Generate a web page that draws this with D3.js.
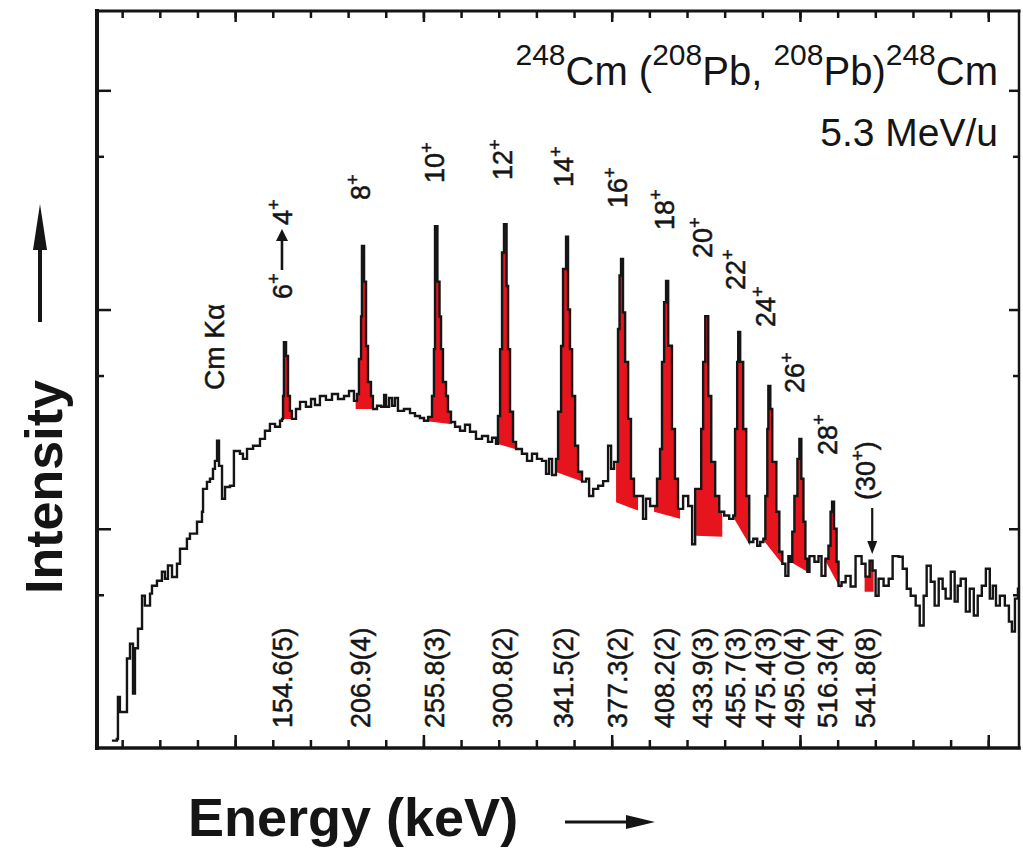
<!DOCTYPE html>
<html>
<head>
<meta charset="utf-8">
<script src="https://cdn.jsdelivr.net/npm/d3@7"></script>
<style>
  html, body { margin: 0; padding: 0; background: #fff; }
  svg { display: block; }
  text { font-family: "Liberation Sans", Arial, sans-serif; fill: #151515; }
  .lbl text { stroke: #151515; stroke-width: 0.5px; }
</style>
</head>
<body>
<svg id="chart" width="1023" height="849"></svg>
<script>
// Gamma-ray spectrum as step levels: [start energy (keV), counts]; each level
// holds until the start of the next one.
const spectrumSteps = [
  [39.7,108],[43.0,110],[43.7,171],[45.0,146],[49.7,256],[51.7,299],[53.7,177],[55.0,285],
  [57.0,350],[59.7,495],[61.6,446],[65.0,506],[66.3,550],[69.6,579],[72.9,637],[74.9,592],
  [76.9,680],[79.6,603],[82.9,693],[84.9,811],[89.5,900],[91.5,950],[96.2,1076],[99.5,1195],
  [100.2,1521],[102.8,1637],[104.8,1690],[106.8,1876],[108.1,2040],[109.5,2520],[110.8,1936],
  [112.8,1370],[114.8,1550],[118.1,1570],[120.7,2265],[124.7,2200],[126.7,2084],[129.4,2314],
  [133.4,2390],[138.0,2570],[141.3,2800],[144.6,3010],[148.0,2920],[151.3,3110],[152.6,3170],
  [153.3,4030],[153.9,7100],[155.3,6140],[156.6,4030],[157.9,3450],[159.2,3170],[161.9,3520],
  [164.6,3790],[168.5,3600],[171.9,3910],[174.5,3670],[177.8,4030],[181.8,3870],[185.8,4120],
  [189.8,3910],[193.8,4030],[197.1,4250],[200.4,3830],[202.4,4120],[203.7,5950],[205.1,9300],
  [205.7,19500],[207.1,13400],[208.4,6820],[209.7,4670],[211.7,4030],[213.0,3520],[215.7,3640],
  [218.4,3600],[220.4,4080],[221.7,3600],[223.7,3950],[225.7,3640],[227.6,3950],[229.6,3450],
  [233.6,3520],[237.6,3370],[240.9,3270],[244.2,3200],[246.9,3110],[249.6,3240],[252.2,4030],
  [253.5,6600],[254.2,24000],[255.8,13400],[257.2,9300],[258.2,6600],[259.5,4670],[261.5,4030],
  [262.8,3420],[264.8,3070],[267.5,2920],[270.8,2800],[274.1,2980],[277.4,2770],[281.4,2570],
  [285.4,2650],[289.4,2490],[292.1,2600],[294.7,2440],[296.0,3270],[297.4,6600],[298.7,18200],
  [300.0,24500],[301.7,12800],[302.7,6600],[304.0,3420],[306.0,2490],[308.0,2310],[311.9,2200],
  [315.3,2040],[318.6,2200],[321.9,2084],[325.2,2040],[327.9,1780],[329.9,2084],[331.9,1760],
  [334.5,2084],[335.9,3420],[337.9,6820],[339.2,15300],[341.2,21500],[342.5,10000],[343.8,6600],
  [345.2,4030],[347.2,2390],[349.2,1820],[351.8,1640],[354.5,1690],[356.5,1410],[359.2,1521],
  [362.5,1570],[365.8,1650],[369.1,2390],[371.1,1876],[373.1,2020],[375.7,8150],[376.7,14300],
  [377.7,17000],[379.0,9700],[380.4,5770],[382.4,3170],[384.3,1690],[386.3,1410],[392.3,1110],
  [394.3,1370],[397.0,1270],[401.6,1690],[403.6,2310],[404.9,5770],[406.3,10800],[407.6,13500],
  [409.0,6840],[411.5,2850],[413.5,1690],[415.5,1233],[418.9,1410],[422.3,1270],[424.9,850],
  [426.9,1521],[430.9,2850],[432.2,5770],[433.6,9330],[435.6,4030],[437.6,2020],[440.2,1410],
  [442.9,1195],[446.2,1150],[449.5,1110],[452.2,1150],[453.4,2850],[454.8,5770],[455.5,7900],
  [456.8,5770],[458.8,2850],[460.8,1410],[462.8,870],[465.5,900],[468.1,837],[470.1,870],
  [472.2,900],[473.5,1410],[474.8,2850],[475.5,4480],[476.8,3520],[478.1,2020],[480.8,1195],
  [482.8,785],[484.8,693],[486.8,610],[488.8,750],[490.1,707],[491.4,970],[492.8,1410],
  [494.8,2084],[496.1,2570],[497.4,1690],[498.8,1076],[500.1,730],[501.4,637],[502.8,750],
  [506.1,707],[508.8,750],[510.8,610],[513.4,730],[515.4,837],[516.8,1195],[517.8,1330],
  [519.1,1000],[520.8,707],[522.1,550],[524.1,570],[526.8,610],[530.1,545],[533.4,750],
  [537.4,693],[540.0,605],[542.7,715],[544.7,645],[546.7,495],[548.7,592],[552.0,550],
  [555.4,592],[558.0,750],[562.0,745],[564.7,657],[567.4,533],[570.0,495],[573.3,446],
  [576.0,362],[578.6,495],[580.6,678],[583.3,573],[585.9,446],[588.6,592],[591.2,533],
  [593.2,480],[596.6,637],[599.2,465],[601.2,550],[603.2,592],[606.6,419],[609.2,533],
  [611.9,402],[614.5,495],[617.2,550],[619.9,657],[622.5,480],[624.5,550],[626.6,446],
  [629.2,495],[632.5,446],[635.2,377],[637.2,340],[639.2,480],[641.2,533]
];
const spectrumEndKeV = 641.9;

// Ground-band transitions I -> I-2
const spins          = [6, 8, 10, 12, 14, 16, 18, 20, 22, 24, 26, 28, 30];
const transitionKeV  = [154.6, 206.9, 255.8, 300.8, 341.5, 377.3, 408.2, 433.9, 455.7, 475.4, 495.0, 516.3, 541.8];
const transitionErr  = ["5", "4", "3", "2", "2", "2", "2", "3", "3", "3", "4", "4", "8"];
// Peak integration windows and the background under each peak
const windowLoKeV    = [152.6, 201.5, 246.5, 295.4, 334.0, 374.4, 399.6, 427.5, 452.8, 471.5, 490.1, 512.7, 539.4];
const windowHiKeV    = [159.5, 213.5, 265.5, 307.4, 352.5, 389.0, 416.9, 444.9, 463.4, 485.5, 501.4, 523.4, 545.4];
const bgLoCounts     = [3170, 3520, 3110, 2440, 1820, 1320, 1195, 930, 1110, 900, 707, 730, 516];
const bgHiCounts     = [3170, 3520, 3000, 2310, 1640, 1210, 1110, 920, 837, 680, 637, 533, 516];

// ADC channel ticks (0.25 keV per channel)
const channelTicks      = [200,300,400,500,600,700,800,900,1000,1100,1200,1300,1400,1500,1600,1700,1800,1900,2000,2100,2200,2300,2400,2500];
const majorChannelTicks = [500, 1000, 1500, 2000, 2500];
const keVPerChannel = 0.25, keVOffset = -3.5;
const intensityMinorTicks = [500, 5000, 50000];
const intensityMajorTicks = [1000, 10000, 100000];

// Label layout (screen y where each rotated spin label begins)
const spinLabelStartY = [299, 200, 183, 180, 187, 208, 230, 258, 290, 327, 393, 455, 500];

const frame = { left: 97, right: 1019, top: 11, bottom: 748 };
const ink = "#151515", red = "#e5141d";
const svg = d3.select("#chart");

const x = d3.scaleLinear().domain([29.8, 641.9]).range([frame.left, frame.right]);
const y = d3.scaleLog().domain([100, 2.3e5]).range([frame.bottom, frame.top]);

// ---- peak areas (red) ----
const stepLine = d3.line().x(d => x(d[0])).y(d => y(d[1])).curve(d3.curveStepAfter);
function countsAt(e) {
  let c = spectrumSteps[0][1];
  for (const s of spectrumSteps) { if (s[0] <= e) c = s[1]; else break; }
  return c;
}
transitionKeV.forEach((e, i) => {
  const lo = windowLoKeV[i], hi = windowHiKeV[i];
  const pts = [[lo, countsAt(lo)]];
  spectrumSteps.forEach(s => { if (s[0] > lo && s[0] < hi) pts.push(s); });
  pts.push([hi, pts[pts.length - 1][1]]);
  const d = stepLine(pts) + `L${x(hi)},${y(bgHiCounts[i])}L${x(lo)},${y(bgLoCounts[i])}Z`;
  svg.append("path").attr("d", d).attr("fill", red).attr("stroke", "none");
});

// ---- spectrum ----
const fullSteps = spectrumSteps.concat([[spectrumEndKeV, spectrumSteps[spectrumSteps.length - 1][1]]]);
svg.append("path")
  .attr("d", stepLine(fullSteps))
  .attr("fill", "none").attr("stroke", ink).attr("stroke-width", 2.4);

// ---- frame and ticks ----
const tickKeV = channelTicks.map(c => keVOffset + keVPerChannel * c);
const majorKeV = majorChannelTicks.map(c => keVOffset + keVPerChannel * c);
function tickLayer(axisFn, scale, transform, values, size) {
  svg.append("g").attr("transform", transform)
    .call(axisFn(scale).tickValues(values).tickSize(size).tickFormat(""))
    .call(g => g.select(".domain").remove())
    .call(g => g.selectAll("line").attr("stroke", ink).attr("stroke-width", 2.5));
}
tickLayer(d3.axisBottom, x, `translate(0,${frame.bottom})`, tickKeV, -8);
tickLayer(d3.axisBottom, x, `translate(0,${frame.bottom})`, majorKeV, -13);
tickLayer(d3.axisTop, x, `translate(0,${frame.top})`, tickKeV, -7);
tickLayer(d3.axisTop, x, `translate(0,${frame.top})`, majorKeV, -11);
tickLayer(d3.axisLeft, y, `translate(${frame.left},0)`, intensityMinorTicks, -7);
tickLayer(d3.axisLeft, y, `translate(${frame.left},0)`, intensityMajorTicks, -14);
tickLayer(d3.axisRight, y, `translate(${frame.right},0)`, intensityMinorTicks, -6);
tickLayer(d3.axisRight, y, `translate(${frame.right},0)`, intensityMajorTicks, -10);

const edge = (x1, y1, x2, y2, w) => svg.append("line")
  .attr("x1", x1).attr("y1", y1).attr("x2", x2).attr("y2", y2)
  .attr("stroke", ink).attr("stroke-width", w).attr("stroke-linecap", "square");
edge(frame.left, frame.top, frame.left, frame.bottom, 4);
edge(frame.left, frame.bottom, frame.right, frame.bottom, 3.5);
edge(frame.left, frame.top, frame.right, frame.top, 3);
edge(frame.right, frame.top, frame.right, frame.bottom, 2.5);

// ---- rich (superscripted) text helper ----
function richText(sel, segments, size, supRatio = 0.68, riseRatio = 0.42) {
  const supSize = size * supRatio, rise = size * riseRatio;
  let raised = false;
  segments.forEach(s => {
    const ts = sel.append("tspan").text(s.t);
    if (s.sup) {
      ts.attr("font-size", supSize);
      if (!raised) { ts.attr("dy", -rise); raised = true; }
    } else if (raised) { ts.attr("dy", rise); raised = false; }
  });
}
// Text running bottom-to-top, centred on screen x = cx, starting at screen y = yStart
function rotatedGroup(cx, yStart, size) {
  return svg.append("g").attr("class", "lbl")
    .attr("transform", `translate(${cx + size * 0.36},${yStart}) rotate(-90)`)
    .attr("font-size", size);
}
function rotatedText(cx, yStart, segments, size) {
  const t = rotatedGroup(cx, yStart, size).append("text").attr("text-anchor", "start");
  richText(t, segments, size);
  return t;
}

// ---- spin labels ----
const labelSize = 27;
spins.forEach((s, i) => {
  const cx = x(transitionKeV[i]) - 3;
  if (i === 0) {
    // "6+ —> 4+" with a long arrow between the two spins
    const g = rotatedGroup(cx, spinLabelStartY[i], labelSize);
    const t1 = g.append("text");
    richText(t1, [{ t: String(s) }, { t: "+", sup: true }], labelSize);
    const w1 = Math.max(26, t1.node().getComputedTextLength());
    const mid = -labelSize * 0.36, a0 = w1 + 3, a1 = w1 + 44;
    g.append("line").attr("x1", a0).attr("y1", mid).attr("x2", a1 - 8).attr("y2", mid)
      .attr("stroke", ink).attr("stroke-width", 2.6);
    g.append("path").attr("d", `M${a1 - 12},${mid - 6}L${a1},${mid}L${a1 - 12},${mid + 6}Z`).attr("fill", ink);
    const t2 = g.append("text").attr("x", a1 + 4);
    richText(t2, [{ t: String(s - 2) }, { t: "+", sup: true }], labelSize);
    return;
  }
  const segs = (i === spins.length - 1)
    ? [{ t: "(" + s }, { t: "+", sup: true }, { t: ")" }]
    : [{ t: String(s) }, { t: "+", sup: true }];
  rotatedText(cx, spinLabelStartY[i], segs, labelSize);
});

// arrow marking the tentative (30+) line
const a30 = x(transitionKeV[transitionKeV.length - 1]) + 4;
svg.append("line").attr("x1", a30).attr("y1", 508).attr("x2", a30).attr("y2", 545)
  .attr("stroke", ink).attr("stroke-width", 2.2);
svg.append("path").attr("d", `M${a30 - 5},${541}L${a30 + 5},${541}L${a30},${554}Z`).attr("fill", ink);

// ---- transition energies ----
transitionKeV.forEach((e, i) => {
  rotatedText(x(e) - 3, 728, [{ t: `${e.toFixed(1)}(${transitionErr[i]})` }], 27);
});

// X-ray line label
rotatedText(214, 390, [{ t: "Cm K\u03B1" }], 28);

// ---- reaction and beam energy ----
const title = svg.append("text").attr("x", 998).attr("y", 85)
  .attr("text-anchor", "end").attr("font-size", 40);
richText(title, [
  { t: "248", sup: true }, { t: "Cm (" }, { t: "208", sup: true }, { t: "Pb, " },
  { t: "208", sup: true }, { t: "Pb)" }, { t: "248", sup: true }, { t: "Cm" }
], 40, 0.75, 0.5);
svg.append("text").attr("x", 998).attr("y", 146)
  .attr("text-anchor", "end").attr("font-size", 39).text("5.3 MeV/u");

// ---- axis titles with arrows ----
svg.append("text")
  .attr("transform", `translate(62,487) rotate(-90)`)
  .attr("text-anchor", "middle").attr("font-size", 52).attr("font-weight", "bold")
  .text("Intensity");
svg.append("line").attr("x1", 40).attr("y1", 322).attr("x2", 40).attr("y2", 240)
  .attr("stroke", ink).attr("stroke-width", 4);
svg.append("path").attr("d", "M33,250L47,250L40,204Z").attr("fill", ink);

svg.append("text").attr("x", 188).attr("y", 836)
  .attr("font-size", 54).attr("font-weight", "bold").text("Energy (keV)");
svg.append("line").attr("x1", 565).attr("y1", 822).attr("x2", 632).attr("y2", 822)
  .attr("stroke", ink).attr("stroke-width", 3);
svg.append("path").attr("d", "M626,815L626,829L655,822Z").attr("fill", ink);
</script>
</body>
</html>
